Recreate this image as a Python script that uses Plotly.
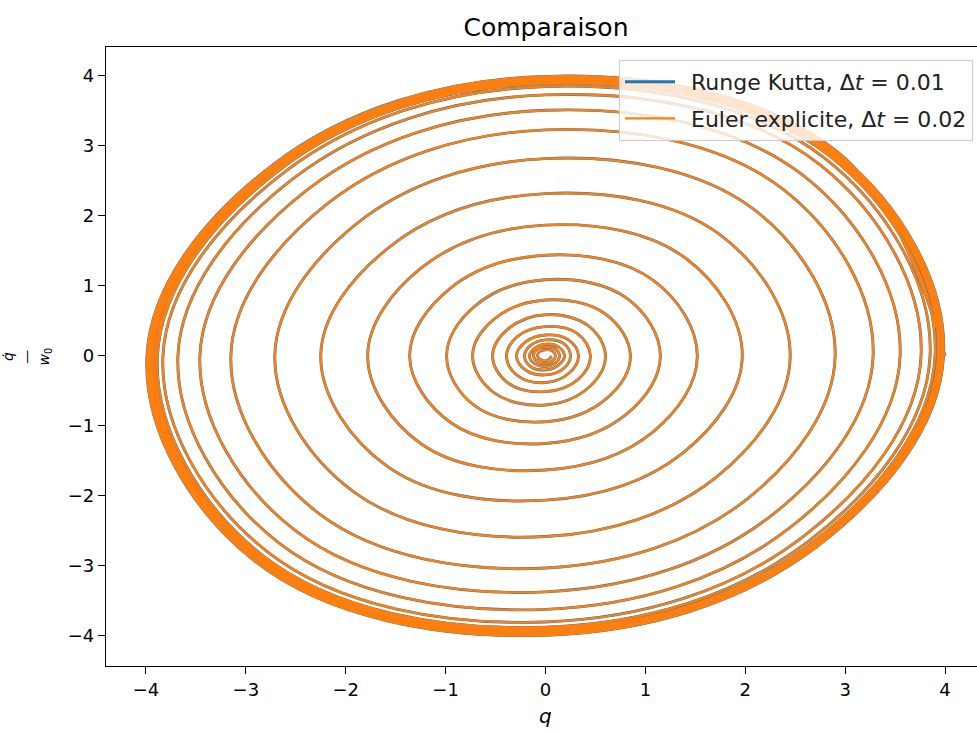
import plotly.graph_objects as go

# Per-turn amplitudes read off the phase portrait (counter-clockwise turns)
# crossings with the q axis (right / left) and with the q-dot axis (top / bottom)
q_right = [4.00, 3.985, 3.97, 3.95, 3.93, 3.90,
           3.85, 3.76, 3.55, 3.28, 2.90, 2.45, 1.97,
           1.52, 1.15, 0.85, 0.60, 0.45, 0.33, 0.25, 0.19, 0.14, 0.10]
qd_top = [3.995, 3.98, 3.96, 3.94, 3.92, 3.895,
          3.85, 3.73, 3.51, 3.23, 2.82, 2.32, 1.87,
          1.44, 1.09, 0.80, 0.59, 0.42, 0.30, 0.23, 0.17, 0.13, 0.09]
q_left = [3.99, 3.975, 3.955, 3.935, 3.91, 3.885,
          3.83, 3.68, 3.46, 3.15, 2.71, 2.25, 1.78,
          1.36, 0.99, 0.73, 0.53, 0.39, 0.29, 0.21, 0.16, 0.12, 0.08]
qd_bottom = [3.99, 3.97, 3.95, 3.93, 3.905, 3.875,
             3.80, 3.62, 3.37, 3.03, 2.58, 2.06, 1.63,
             1.25, 0.94, 0.70, 0.51, 0.38, 0.27, 0.20, 0.15, 0.11, 0.07]
# crossings with the diagonals (|q| = |q-dot|), one value per turn per quadrant
diag_ur = [2.92, 2.91, 2.90, 2.88, 2.87, 2.85,
           2.81, 2.74, 2.58, 2.38, 2.09, 1.74, 1.40,
           1.08, 0.82, 0.60, 0.43, 0.32, 0.23, 0.18, 0.13, 0.10, 0.07]
diag_ul = [2.73, 2.72, 2.70, 2.69, 2.67, 2.66,
           2.62, 2.53, 2.38, 2.18, 1.89, 1.56, 1.25,
           0.96, 0.71, 0.52, 0.38, 0.28, 0.20, 0.15, 0.11, 0.09, 0.06]
diag_ll = [2.92, 2.90, 2.89, 2.87, 2.86, 2.84,
           2.79, 2.67, 2.50, 2.26, 1.93, 1.58, 1.25,
           0.95, 0.71, 0.52, 0.38, 0.28, 0.20, 0.15, 0.11, 0.08, 0.05]
diag_lr = [2.72, 2.71, 2.70, 2.68, 2.67, 2.64,
           2.58, 2.45, 2.27, 2.03, 1.72, 1.38, 1.08,
           0.82, 0.61, 0.44, 0.33, 0.24, 0.18, 0.13, 0.10, 0.07, 0.04]
q_end = 0.06

ticks = [-4, -3, -2, -1, 0, 1, 2, 3, 4]
names = ["\u2002Runge Kutta, Δ<i>t</i> = 0.01", "\u2002Euler explicite, Δ<i>t</i> = 0.02"]
colors = ["#1f77b4", "#ff7f0e"]

q, qd = [], []
for i in range(len(q_right)):
    q += [q_right[i], diag_ur[i], 0, -diag_ul[i], -q_left[i], -diag_ll[i], 0, diag_lr[i]]
    qd += [0, diag_ur[i], qd_top[i], diag_ul[i], 0, -diag_ll[i], -qd_bottom[i], -diag_lr[i]]
q.append(q_end)
qd.append(0)

FONT = "DejaVu Sans"
fig = go.Figure()
for k, (name, col, w) in enumerate(zip(names, colors, [2.9, 2.3])):
    fig.add_trace(go.Scatter(x=q, y=qd, mode="lines", name=name, legendgroup=f"g{k}",
                             line=dict(color=col, width=w, shape="spline", smoothing=1.1)))

W, H = 977, 733
L, R, T, B = 106, 0, 47, 67
fig.update_layout(
    width=W, height=H,
    margin=dict(l=L, r=R, t=T, b=B),
    paper_bgcolor="white", plot_bgcolor="white",
    font=dict(family=FONT, color="black", size=18),
    title=dict(text="Comparaison", x=546 / W, xref="container", xanchor="center",
               y=1 - 27 / H, yref="container", yanchor="middle",
               font=dict(size=25, family=FONT, color="black")),
    showlegend=True,
    legend=dict(x=(973 - L) / (W - L - R), xanchor="right", y=(666 - 60) / (666 - 47), yanchor="top",
                bgcolor="rgba(255,255,255,0.8)", bordercolor="#cccccc", borderwidth=1,
                font=dict(size=22, family=FONT, color="#222222"),
                traceorder="grouped", tracegroupgap=5, itemwidth=50),
    xaxis=dict(range=[-4.40, 4.32], tickvals=ticks, showgrid=False, zeroline=False,
               showline=True, linecolor="black", linewidth=1.2, mirror=True,
               ticks="outside", ticklen=7, tickwidth=1.2, tickcolor="black",
               tickfont=dict(size=18, family=FONT)),
    yaxis=dict(range=[-4.429, 4.414], tickvals=ticks, showgrid=False, zeroline=False,
               showline=True, linecolor="black", linewidth=1.2, mirror=False,
               ticks="outside", ticklen=7, tickwidth=1.2, tickcolor="black",
               tickfont=dict(size=18, family=FONT)),
    annotations=[
        dict(text="<i>q</i>", x=0, xref="x", xanchor="center",
             y=(666 - 716) / (666 - 47), yref="paper", yanchor="middle",
             showarrow=False, font=dict(size=20, family=FONT)),
        dict(text="<i>q̇</i><br>—<br><i>w</i><sub>0</sub>", x=(26 - L) / (W - L - R), xref="paper",
             xanchor="center", y=0.5, yref="paper", yanchor="middle", textangle=-90,
             showarrow=False, font=dict(size=14, family=FONT)),
    ],
)
fig.write_html("out.html")
